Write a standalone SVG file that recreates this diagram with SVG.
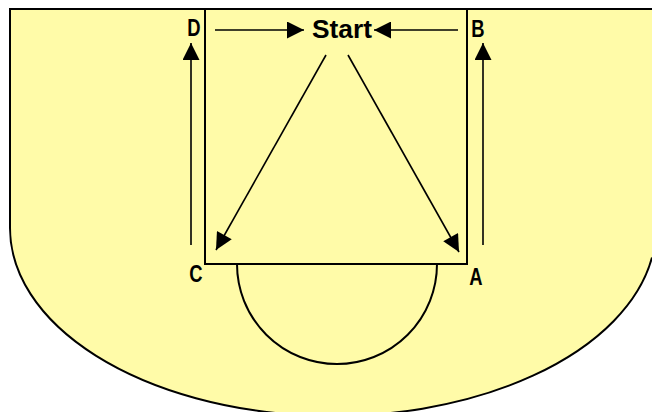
<svg xmlns="http://www.w3.org/2000/svg" width="652" height="412" viewBox="0 0 652 412">
<style>
.court{fill:#FFFBA8;stroke:none}
.edge{fill:none;stroke:#000;stroke-width:2}
.line{fill:none;stroke:#000;stroke-width:2}
.conn{fill:none;stroke:#000;stroke-width:1.6}
.lbl{font-family:"Liberation Sans Narrow","Liberation Sans",Arial,sans-serif;font-weight:bold;font-size:23px;fill:#000;text-anchor:middle}
</style>
<defs>
<marker id="ah" viewBox="0 0 10 10" refX="10" refY="5" markerWidth="20" markerHeight="17" markerUnits="userSpaceOnUse" orient="auto">
<path d="M0,0 L10,5 L0,10 z" fill="#000"/>
</marker>
</defs>
<rect width="652" height="412" fill="#fff"/>
<g id="court">
<path class="court" d="M10,9 H652 V257.5 A323 188 0 0 1 10 228 Z"/>
<path class="edge" d="M652,9 H10 V228 A323 188 0 0 0 652 257.5"/>
<path class="line" d="M205,9 V264 H467 V9"/>
<path class="line" d="M237,264 A100 100 0 0 0 437 264"/>
</g>
<g id="connectors">
<line class="conn" x1="215" y1="30" x2="304" y2="30" marker-end="url(#ah)"/>
<line class="conn" x1="458" y1="30" x2="374" y2="30" marker-end="url(#ah)"/>
<line class="conn" x1="191" y1="245" x2="191" y2="43" marker-end="url(#ah)"/>
<line class="conn" x1="483" y1="245" x2="483" y2="43" marker-end="url(#ah)"/>
<line class="conn" x1="326" y1="55" x2="216" y2="250" marker-end="url(#ah)"/>
<line class="conn" x1="348" y1="55" x2="459" y2="252" marker-end="url(#ah)"/>
</g>
<g id="start"><text class="lbl" x="342" y="38" style="font-size:25px" textLength="60" lengthAdjust="spacingAndGlyphs">Start</text></g>
<g id="D"><text class="lbl" transform="translate(194,36) scale(0.8,1)">D</text></g>
<g id="B"><text class="lbl" transform="translate(478,37) scale(0.8,1)">B</text></g>
<g id="C"><text class="lbl" transform="translate(196,282) scale(0.8,1)">C</text></g>
<g id="A"><text class="lbl" transform="translate(476,285) scale(0.8,1)">A</text></g>
</svg>
